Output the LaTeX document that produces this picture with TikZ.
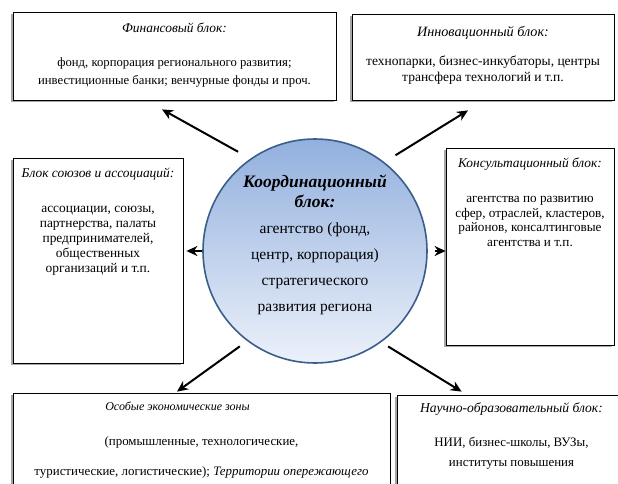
\documentclass[tikz,border=0pt]{standalone}
\usepackage{fontspec}
\setmainfont{Liberation Serif}
\usetikzlibrary{arrows.meta,positioning,shadows}
\definecolor{circtop}{RGB}{146,176,222}
\definecolor{circbot}{RGB}{236,241,250}
\definecolor{circline}{RGB}{58,94,138}

\begin{document}
\begin{tikzpicture}[x=1pt, y=-1pt,
    box/.style={draw, line width=0.8pt, fill=white, inner sep=0pt, drop shadow={shadow xshift=-2pt, shadow yshift=-2pt, fill=gray!70, opacity=1}},
    txt/.style={align=center, inner sep=0pt},
    arr/.style={-{Stealth[length=11pt, width=10pt, inset=3.5pt]}, line width=2pt}]
    \useasboundingbox (0,0) rectangle (618,484);
    \clip (0,0) rectangle (618,484);
    % blocks
    \node[box, minimum width=323pt, minimum height=88pt] (finbox) at (174.5,56) {};
    \node[box, minimum width=262pt, minimum height=86pt] (innbox) at (483,57) {};
    \node[box, minimum width=170pt, minimum height=205pt] (unibox) at (98,260.5) {};
    \node[box, minimum width=168pt, minimum height=197pt] (conbox) at (530,246.5) {};
    \node[box, minimum width=377pt, minimum height=127pt] (ozbox) at (201.5,456.5) {};
    \node[box, minimum width=229pt, minimum height=125pt] (naubox) at (511.5,457.5) {};
    % centre
    \node[circle, draw=circline, line width=1.6pt, top color=circtop, bottom color=circbot, minimum size=224pt, inner sep=0pt] (coord) at (315,251) {};
    \node[txt, font=\fontsize{15.5}{26}\selectfont, anchor=north] (coordtxt) at (315,175) {{\fontsize{17.5}{20}\selectfont\bfseries\itshape Координационный}\\[-6pt] {\fontsize{17.5}{20}\selectfont\bfseries\itshape блок:}\\ агентство (фонд,\\ центр, корпорация)\\ стратегического\\ развития региона};
    % texts
    \node[txt, font=\fontsize{12.7}{18}\selectfont, below=11.5pt of finbox.north] (fintxt) {\textit{\fontsize{13.4}{16}\selectfont Финансовый блок:}\\[16pt] фонд, корпорация регионального развития;\\ инвестиционные банки; венчурные фонды и проч.};
    \node[txt, font=\fontsize{13.5}{16}\selectfont, below=13pt of innbox.north] (inntxt) {\textit{\fontsize{14.2}{16}\selectfont Инновационный блок:}\\[13pt] технопарки, бизнес-инкубаторы, центры\\ трансфера технологий и т.п.};
    \node[txt, font=\fontsize{13.4}{15}\selectfont, below=10pt of unibox.north] (unitxt) {\textit{\fontsize{13.4}{16}\selectfont Блок союзов и ассоциаций:}\\[20pt] ассоциации, союзы,\\ партнерства, палаты\\ предпринимателей,\\ общественных\\ организаций и т.п.};
    \node[txt, font=\fontsize{13.2}{14.7}\selectfont, below=10.5pt of conbox.north] (contxt) {\textit{\fontsize{13.4}{16}\selectfont Консультационный блок:}\\[20pt] агентства по развитию\\ сфер, отраслей, кластеров,\\ районов, консалтинговые\\ агентства и т.п.};
    \node[txt, font=\fontsize{12.9}{30}\selectfont, below=9pt of ozbox.north] (oztxt) {\textit{\fontsize{12}{16}\selectfont Особые экономические зоны}\hspace*{48pt}\\[5pt] (промышленные, технологические,\\ туристические, логистические); \textit{Территории опережающего}};
    \node[txt, font=\fontsize{12.9}{20}\selectfont, below=8pt of naubox.north] (nautxt) {\textit{\fontsize{13.6}{16}\selectfont Научно-образовательный блок:}\\[14pt] НИИ, бизнес-школы, ВУЗы,\\ институты повышения};
    % arrows
    \draw[arr, shorten <=14pt] (coord.125) -- ([xshift=-12.5pt, yshift=-9pt]finbox.south);
    \draw[arr, shorten <=13pt] (coord.52) -- ([xshift=-15pt, yshift=-10pt]innbox.south);
    \draw[arr, shorten >=3pt] (coord.west) -- (unibox.east |- coord.west);
    \draw[arr, shorten <=7pt] (coord.east) -- (conbox.west |- coord.east);
    \draw[arr, shorten <=9pt] (coord.233) -- ([xshift=-24.5pt, yshift=1pt]ozbox.north);
    \draw[arr, shorten <=8pt] (coord.306) -- ([xshift=65pt, yshift=3pt]naubox.north west);
\end{tikzpicture}
\end{document}
